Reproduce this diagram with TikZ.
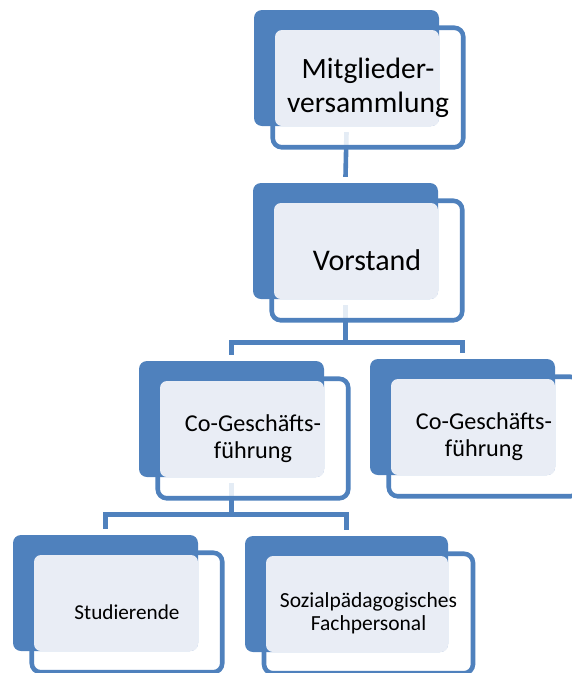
\documentclass[tikz,border=0pt]{standalone}
\usepackage{fontspec}
\setmainfont{Carlito}
\usetikzlibrary{backgrounds}
\definecolor{orgblue}{HTML}{4F81BD}
\definecolor{orglight}{HTML}{E9EDF5}

\begin{document}
\begin{tikzpicture}[x=1pt,y=-1pt]
	\tikzstyle{backbox}=[rectangle,fill=orgblue,rounded corners=8pt,inner sep=0pt,minimum width=185pt,minimum height=116pt]
	\tikzstyle{lightbox}=[rectangle,fill=orglight,rounded corners=7pt,inner sep=0pt,minimum width=164pt,minimum height=96pt]
	\tikzstyle{framebox}=[rectangle,draw=orgblue,line width=4.6pt,fill=white,fill opacity=0.85,rounded corners=9pt,inner sep=0pt,minimum width=190.5pt,minimum height=119.5pt]
	\tikzstyle{boxtext}=[align=center,inner sep=0pt]
	\tikzstyle{orgline}=[orgblue,line width=4.6pt]
	\useasboundingbox (0,0) rectangle (572,673);
	% Mitgliederversammlung
	\node (mv)       at (368,87.5)  [framebox] {};
	\node (mv-back)  at (346.5,68)  [backbox]  {};
	\node (mv-light) at (357,78)    [lightbox] {};
	\node (mv-text)  at (mv) [boxtext,font=\fontsize{29.5}{34}\selectfont] {Mitglieder-\\versammlung};
	% Vorstand
	\node (vs)       at (367,260.5) [framebox] {};
	\node (vs-back)  at (345.5,241) [backbox]  {};
	\node (vs-light) at (356,251)   [lightbox] {};
	\node (vs-text)  at (vs) [boxtext,font=\fontsize{30}{34}\selectfont] {Vorstand};
	% Co-Geschaeftsfuehrung links
	\node (gf1)       at (253,438.5) [framebox] {};
	\node (gf1-back)  at (231.5,419) [backbox]  {};
	\node (gf1-light) at (242,429)   [lightbox] {};
	\node (gf1-text)  at (gf1) [boxtext,font=\fontsize{24.2}{27.5}\selectfont] {Co-Geschäfts-\\führung};
	% Co-Geschaeftsfuehrung rechts
	\node (gf2)       at (484,436.5) [framebox] {};
	\node (gf2-back)  at (462.5,417) [backbox]  {};
	\node (gf2-light) at (473,427)   [lightbox] {};
	\node (gf2-text)  at (gf2) [boxtext,font=\fontsize{24.2}{27.5}\selectfont] {Co-Geschäfts-\\führung};
	% Studierende
	\node (st)       at (127,612.5)  [framebox] {};
	\node (st-back)  at (105.5,593)  [backbox]  {};
	\node (st-light) at (116,603)    [lightbox] {};
	\node (st-text)  at (st) [boxtext,font=\fontsize{21.2}{23.5}\selectfont] {Studierende};
	% Fachpersonal
	\node (fp)       at (368.5,613.5) [framebox,minimum width=209pt] {};
	\node (fp-back)  at (346.5,594)   [backbox,minimum width=203pt]  {};
	\node (fp-light) at (357,604)     [lightbox,minimum width=182pt] {};
	\node (fp-text)  at (fp) [boxtext,font=\fontsize{21.5}{23.5}\selectfont] {Sozialpädagogisches\\Fachpersonal};
	\begin{scope}[on background layer]
		\draw [orgline] ([yshift=-6pt]mv-back.south) -- ([yshift=6pt]vs-back.north);
		\draw [orgline] ([yshift=-6pt]vs-back.south) -- ++(0,37) coordinate (vs-split) -| ([yshift=6pt]gf1-back.north);
		\draw [orgline] (vs-split) -| ([yshift=6pt]gf2-back.north);
		\draw [orgline] ([yshift=-6pt]gf1-back.south) -- ++(0,31) coordinate (gf-split) -| ([yshift=6pt]st-back.north);
		\draw [orgline] (gf-split) -| ([yshift=6pt]fp-back.north);
	\end{scope}
\end{tikzpicture}
\end{document}
